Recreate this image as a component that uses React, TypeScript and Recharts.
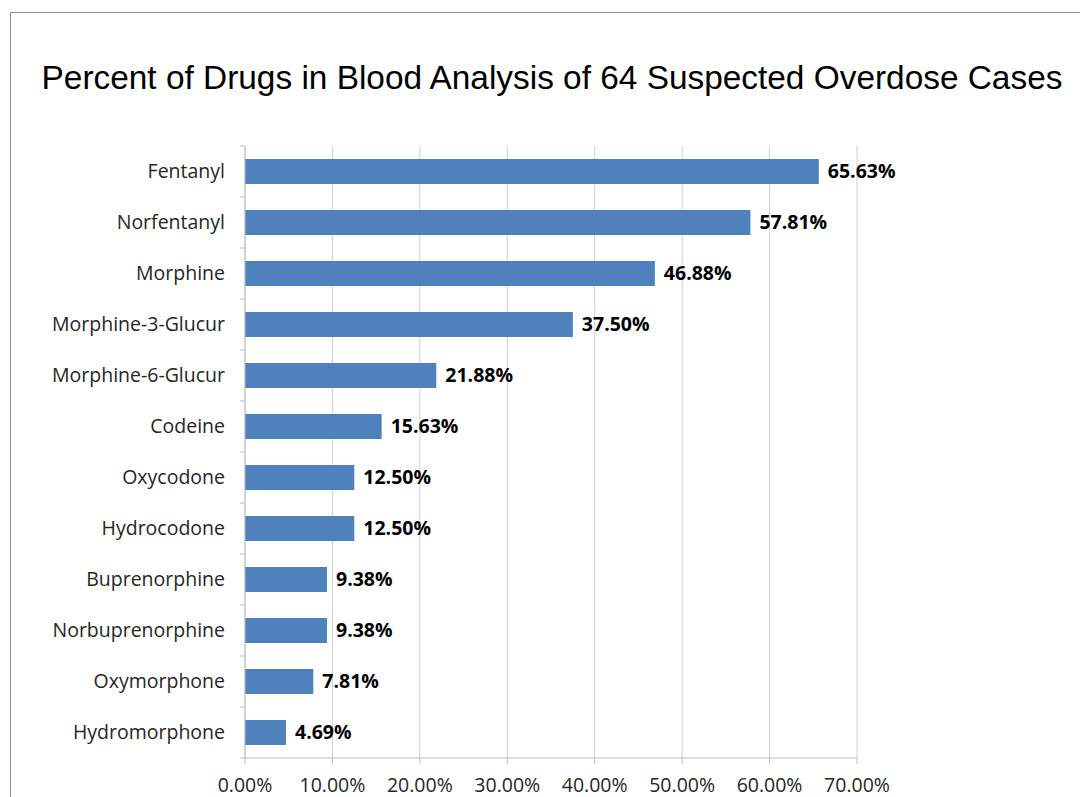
import { BarChart, Bar, XAxis, YAxis, CartesianGrid, LabelList } from 'recharts'

const drugs = [
  'Fentanyl',
  'Norfentanyl',
  'Morphine',
  'Morphine-3-Glucur',
  'Morphine-6-Glucur',
  'Codeine',
  'Oxycodone',
  'Hydrocodone',
  'Buprenorphine',
  'Norbuprenorphine',
  'Oxymorphone',
  'Hydromorphone',
]

const percents = [65.63, 57.81, 46.88, 37.5, 21.88, 15.63, 12.5, 12.5, 9.38, 9.38, 7.81, 4.69]

const xTicks = [0, 10, 20, 30, 40, 50, 60, 70]

const chartData = drugs.map((drug, i) => ({ drug, percent: percents[i] }))

const W = 1080
const H = 797
const X_AXIS_H = 30
const M = { top: 146, right: 223, bottom: 39 - X_AXIS_H, left: 0 }
const Y_AXIS_W = 245
const band = (H - M.top - M.bottom - X_AXIS_H) / drugs.length

const labelFont = '"Open Sans", "DejaVu Sans", sans-serif'
const FS = 19.5

// category tick: label at band centre, tick marks on band edges like Excel
const DrugTick = (props: any) => {
  const { x, y, payload, index } = props
  const top = y - band / 2
  const bottom = y + band / 2
  return (
    <g>
      <line x1={x + 3} x2={x + 8} y1={top} y2={top} stroke="#bfbfbf" />
      {index === drugs.length - 1 && <line x1={x + 3} x2={x + 8} y1={bottom} y2={bottom} stroke="#bfbfbf" />}
      <text x={x - 12} y={y} dy="0.35em" textAnchor="end" fill="#262626" fontSize={FS} fontFamily={labelFont}>
        {payload.value}
      </text>
    </g>
  )
}

export default function App() {
  return (
    <div style={{ position: 'absolute', left: 0, top: 0, width: W, height: H, overflow: 'hidden', background: '#fff' }}>
      <div
        style={{
          position: 'absolute',
          left: 10,
          top: 12,
          width: W + 20,
          height: H + 20,
          border: '1px solid #8c8c8c',
        }}
      />
      <div
        style={{
          position: 'absolute',
          left: 0,
          width: 1104,
          top: 58,
          textAlign: 'center',
          fontFamily: '"Liberation Sans", Arial, sans-serif',
          fontSize: 33.4,
          lineHeight: '40px',
          color: '#000',
        }}
      >
        Percent of Drugs in Blood Analysis of 64 Suspected Overdose Cases
      </div>
      <div style={{ position: 'absolute', left: 0, top: 0 }}>
        <BarChart width={W} height={H} data={chartData} layout="vertical" margin={M} barCategoryGap={0}>
          <CartesianGrid horizontal={false} stroke="#d0d0d0" />
          <XAxis
            type="number"
            domain={[0, 70]}
            ticks={xTicks}
            height={X_AXIS_H}
            tickFormatter={(v: number) => `${v.toFixed(2)}%`}
            stroke="#bfbfbf"
            tickSize={6}
            tickMargin={14}
            tick={{ fill: '#262626', fontSize: FS, fontFamily: labelFont }}
            interval={0}
          />
          <YAxis
            type="category"
            dataKey="drug"
            width={Y_AXIS_W}
            stroke="#bfbfbf"
            tickLine={false}
            tick={<DrugTick />}
            interval={0}
          />
          <Bar dataKey="percent" fill="#4f81bd" barSize={25} isAnimationActive={false}>
            <LabelList
              dataKey="percent"
              position="right"
              offset={9}
              formatter={(v: number) => `${v.toFixed(2)}%`}
              fill="#000"
              fontSize={FS}
              fontWeight="bold"
              fontFamily={labelFont}
            />
          </Bar>
        </BarChart>
      </div>
    </div>
  )
}
